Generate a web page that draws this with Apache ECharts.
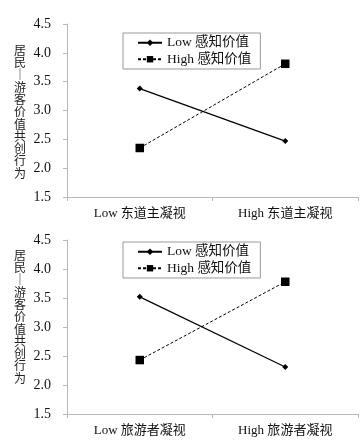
<!DOCTYPE html>
<html><head><meta charset="utf-8">
<script src="https://cdn.jsdelivr.net/npm/echarts@6/dist/echarts.min.js"></script>
<style>html,body{margin:0;padding:0;background:#fff}#c{width:364px;height:442px}</style>
</head><body><div id="c"></div>
<script>
const topCategories = ['Low 东道主凝视', 'High 东道主凝视'];
const bottomCategories = ['Low 旅游者凝视', 'High 旅游者凝视'];
const seriesNames = ['Low 感知价值', 'High 感知价值'];
const topLow = [3.38, 2.47];
const topHigh = [2.35, 3.81];
const bottomLow = [3.52, 2.31];
const bottomHigh = [2.43, 3.78];
const yTicks = [1.5, 2.0, 2.5, 3.0, 3.5, 4.0, 4.5];
const yNameChars = ['居', '民', '│', '游', '客', '价', '值', '共', '创', '行', '为'];

const serif = '"Liberation Serif", "Times New Roman", "Noto Sans CJK SC", serif';
const cjk = '"Noto Sans CJK SC", sans-serif';
const axisGrey = '#b8b8b8';

function xAxis(gi, cats) {
  return {
    type: 'category', gridIndex: gi, data: cats,
    axisLine: {lineStyle: {color: axisGrey, width: 1}},
    axisTick: {show: true, length: 4, lineStyle: {color: axisGrey}},
    axisLabel: {color: '#111', fontFamily: serif, fontSize: 13, margin: 10}
  };
}
function yAxis(gi) {
  return {
    type: 'value', gridIndex: gi, min: yTicks[0], max: yTicks[yTicks.length - 1], interval: 0.5,
    axisLine: {show: true, lineStyle: {color: axisGrey, width: 1}},
    axisTick: {show: true, length: 4, lineStyle: {color: axisGrey}},
    splitLine: {show: false},
    axisLabel: {color: '#111', fontFamily: serif, fontSize: 14, margin: 16,
      formatter: v => v.toFixed(1)}
  };
}
function series(name, gi, data, dashed) {
  return {
    name: name, type: 'line', xAxisIndex: gi, yAxisIndex: gi, data: data,
    symbol: dashed ? 'rect' : 'diamond', symbolSize: dashed ? 8.5 : 6,
    itemStyle: {color: '#000'},
    lineStyle: {color: '#000', width: dashed ? 1 : 1.2, type: dashed ? [3, 2] : 'solid'},
    animation: false, emphasis: {disabled: true}
  };
}
function legend(top) {
  return {
    show: true, orient: 'vertical', left: 123, top: top,
    data: seriesNames, selectedMode: false,
    borderColor: '#999', borderWidth: 1, padding: [3, 9, 3, 14],
    itemGap: 3, itemWidth: 24, itemHeight: 8,
    textStyle: {color: '#111', fontFamily: serif, fontSize: 13.5}
  };
}
function yName(cy) {
  return {
    type: 'text', left: 14, top: cy - 67, silent: true,
    style: {text: yNameChars.join('\n'), font: '12px ' + cjk, lineHeight: 12.3,
      fill: '#222', align: 'left'}
  };
}

const chart = echarts.init(document.getElementById('c'));
chart.setOption({
  animation: false,
  grid: [
    {left: 67, right: 6, top: 24, height: 173},
    {left: 67, right: 6, top: 240, height: 174}
  ],
  legend: [legend(33), legend(242)],
  xAxis: [xAxis(0, topCategories), xAxis(1, bottomCategories)],
  yAxis: [yAxis(0), yAxis(1)],
  graphic: [yName(111), yName(316)],
  series: [
    series(seriesNames[0], 0, topLow, false),
    series(seriesNames[1], 0, topHigh, true),
    series(seriesNames[0], 1, bottomLow, false),
    series(seriesNames[1], 1, bottomHigh, true)
  ]
});
</script></body></html>
